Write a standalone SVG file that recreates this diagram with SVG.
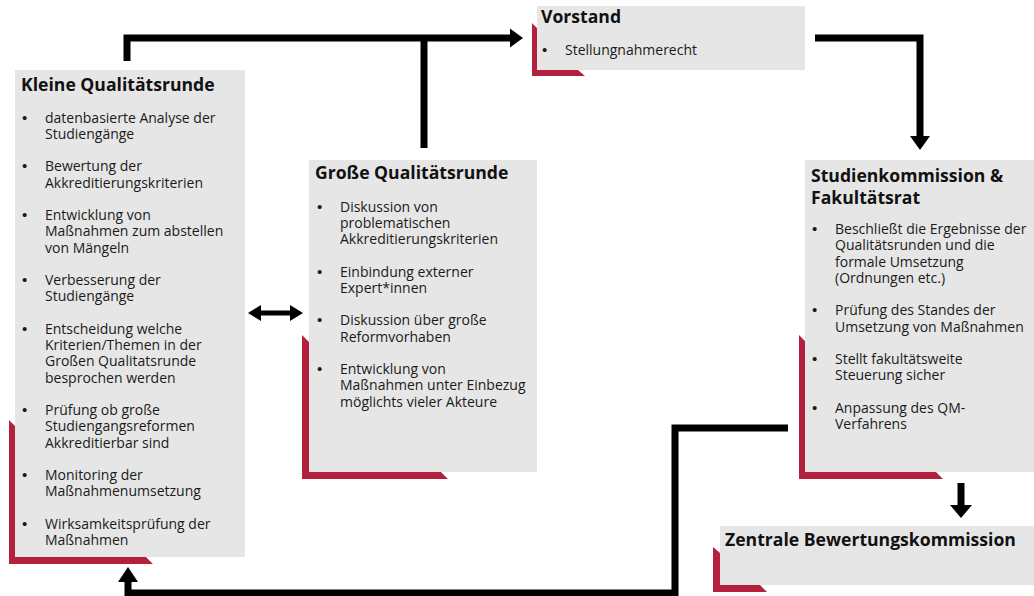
<svg xmlns="http://www.w3.org/2000/svg" width="1034" height="596" viewBox="0 0 1034 596">
<style>
.box{fill:#e6e6e6}
.acc{fill:#b4213f}
.t{font-family:"Open Sans","Liberation Sans",sans-serif;font-size:17.6px;font-weight:700;fill:#111}
.b{font-family:"Open Sans","Liberation Sans",sans-serif;font-size:14px;fill:#1a1a1a}
.bu{font-family:"Liberation Sans",Arial,sans-serif;font-size:15px;fill:#1a1a1a}
.c{fill:none;stroke:#000;stroke-width:7;stroke-linejoin:miter}
.h{fill:#000}
</style>
<rect width="1034" height="596" fill="#fff"/>

<g id="connectors">
  <path class="c" d="M127,61 V38 H511"/>
  <polygon class="h" points="510,28.5 523,38 510,47.5"/>
  <path class="c" d="M424,148 V38"/>
  <path class="c" d="M815,38 H920 V137"/>
  <polygon class="h" points="910,136 930,136 920,150"/>
  <path class="c" d="M961,483 V506"/>
  <polygon class="h" points="950,505 972,505 961,518"/>
  <path class="c" d="M788,428 H675 V593 H128 V581"/>
  <polygon class="h" points="118,582 138,582 128,567"/>
  <path d="M258,313 H293" stroke="#000" stroke-width="5" fill="none"/>
  <polygon class="h" points="261,305 248,313 261,321"/>
  <polygon class="h" points="290,305 303,313 290,321"/>
</g>

<g id="vorstand">
  <polygon class="acc" points="532,23 537,28 537,70 578,70 585,76 532,76"/>
  <rect class="box" x="537" y="6" width="268" height="64"/>
  <text class="t" x="541" y="23">Vorstand</text>
  <text class="bu" x="542" y="55">•</text>
  <text class="b" x="565" y="55">Stellungnahmerecht</text>
</g>

<g id="kleine-qualitaetsrunde">
  <polygon class="acc" points="9,420 15,426 15,557 146,557 153,564 9,564"/>
  <rect class="box" x="15" y="70" width="230" height="487"/>
  <text class="t" x="21" y="91">Kleine Qualitätsrunde</text>
  <text class="bu" x="22"><tspan y="122.5">•</tspan><tspan x="22" y="171.25">•</tspan><tspan x="22" y="220">•</tspan><tspan x="22" y="285">•</tspan><tspan x="22" y="333.75">•</tspan><tspan x="22" y="415">•</tspan><tspan x="22" y="480">•</tspan><tspan x="22" y="528.75">•</tspan></text>
  <text class="b">
    <tspan x="45" y="122.5">datenbasierte Analyse der</tspan>
    <tspan x="45" y="138.75">Studiengänge</tspan>
    <tspan x="45" y="171.25">Bewertung der</tspan>
    <tspan x="45" y="187.5">Akkreditierungskriterien</tspan>
    <tspan x="45" y="220">Entwicklung von</tspan>
    <tspan x="45" y="236.25">Maßnahmen zum abstellen</tspan>
    <tspan x="45" y="252.5">von Mängeln</tspan>
    <tspan x="45" y="285">Verbesserung der</tspan>
    <tspan x="45" y="301.25">Studiengänge</tspan>
    <tspan x="45" y="333.75">Entscheidung welche</tspan>
    <tspan x="45" y="350">Kriterien/Themen in der</tspan>
    <tspan x="45" y="366.25">Großen Qualitatsrunde</tspan>
    <tspan x="45" y="382.5">besprochen werden</tspan>
    <tspan x="45" y="415">Prüfung ob große</tspan>
    <tspan x="45" y="431.25">Studiengangsreformen</tspan>
    <tspan x="45" y="447.5">Akkreditierbar sind</tspan>
    <tspan x="45" y="480">Monitoring der</tspan>
    <tspan x="45" y="496.25">Maßnahmenumsetzung</tspan>
    <tspan x="45" y="528.75">Wirksamkeitsprüfung der</tspan>
    <tspan x="45" y="545">Maßnahmen</tspan>
  </text>
</g>

<g id="grosse-qualitaetsrunde">
  <polygon class="acc" points="302,335 309,342 309,472 441,472 448,479 302,479"/>
  <rect class="box" x="309" y="160" width="228" height="312"/>
  <text class="t" x="315" y="179">Große Qualitätsrunde</text>
  <text class="bu" x="317"><tspan y="211.5">•</tspan><tspan x="317" y="276.5">•</tspan><tspan x="317" y="325.25">•</tspan><tspan x="317" y="374">•</tspan></text>
  <text class="b">
    <tspan x="340" y="211.5">Diskussion von</tspan>
    <tspan x="340" y="227.75">problematischen</tspan>
    <tspan x="340" y="244">Akkreditierungskriterien</tspan>
    <tspan x="340" y="276.5">Einbindung externer</tspan>
    <tspan x="340" y="292.75">Expert*innen</tspan>
    <tspan x="340" y="325.25">Diskussion über große</tspan>
    <tspan x="340" y="341.5">Reformvorhaben</tspan>
    <tspan x="340" y="374">Entwicklung von</tspan>
    <tspan x="340" y="390.25">Maßnahmen unter Einbezug</tspan>
    <tspan x="340" y="406.5">möglichts vieler Akteure</tspan>
  </text>
</g>

<g id="studienkommission">
  <polygon class="acc" points="799,335 805,341 805,472 936,472 943,479 799,479"/>
  <rect class="box" x="805" y="160" width="229" height="312"/>
  <text class="t"><tspan x="811" y="182">Studienkommission &amp;</tspan><tspan x="811" y="204">Fakultätsrat</tspan></text>
  <text class="bu" x="812"><tspan y="234">•</tspan><tspan x="812" y="315.25">•</tspan><tspan x="812" y="364">•</tspan><tspan x="812" y="412.75">•</tspan></text>
  <text class="b">
    <tspan x="835" y="234">Beschließt die Ergebnisse der</tspan>
    <tspan x="835" y="250.25">Qualitätsrunden und die</tspan>
    <tspan x="835" y="266.5">formale Umsetzung</tspan>
    <tspan x="835" y="282.75">(Ordnungen etc.)</tspan>
    <tspan x="835" y="315.25">Prüfung des Standes der</tspan>
    <tspan x="835" y="331.5">Umsetzung von Maßnahmen</tspan>
    <tspan x="835" y="364">Stellt fakultätsweite</tspan>
    <tspan x="835" y="380.25">Steuerung sicher</tspan>
    <tspan x="835" y="412.75">Anpassung des QM-</tspan>
    <tspan x="835" y="429">Verfahrens</tspan>
  </text>
</g>

<g id="zentrale-bewertungskommission">
  <polygon class="acc" points="713,547 720,553 720,585 760,585 767,592 713,592"/>
  <rect class="box" x="720" y="526" width="314" height="59"/>
  <text class="t" x="725" y="546">Zentrale Bewertungskommission</text>
</g>
</svg>
